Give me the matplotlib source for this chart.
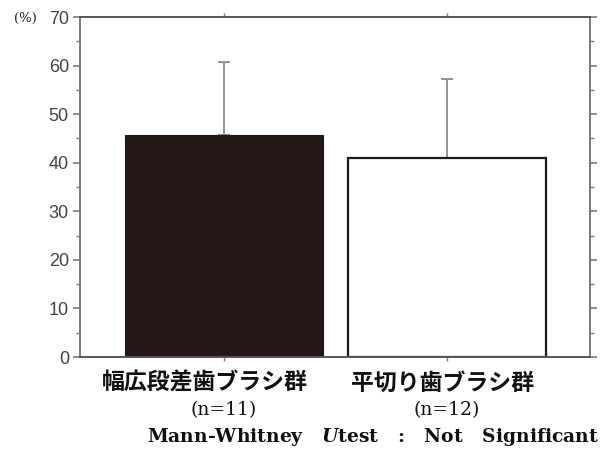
import numpy as np
import matplotlib.pyplot as plt
from matplotlib.ticker import MultipleLocator

plt.rcParams['mathtext.fontset'] = 'custom'
plt.rcParams['mathtext.it'] = 'DejaVu Serif:italic:bold'
plt.rcParams['mathtext.rm'] = 'DejaVu Serif:bold'

# group means and upper SD
groups = ['幅広段差歯ブラシ群', '平切り歯ブラシ群']
counts = ['(n=11)', '(n=12)']
means = [45.8, 40.9]
sd_upper = [15.0, 16.3]
yticks = [0, 10, 20, 30, 40, 50, 60, 70]

fig = plt.figure(figsize=(6.06, 4.5), dpi=100)
ax = fig.add_axes([80 / 606, 93 / 450, 510 / 606, 340 / 450])

x = np.arange(len(groups))
ax.bar(x, means, width=0.885, color=['#231815', 'white'],
       edgecolor=['#231815', '#231815'], linewidth=[0.8, 1.6], zorder=2)
ax.errorbar(x, means, yerr=[np.zeros(len(means)), sd_upper], fmt='none',
            ecolor='#8a8a8a', elinewidth=1.3, capsize=4, capthick=1.3, zorder=1)

ax.set_xlim(-0.646, 1.641)
ax.set_ylim(0, 70)
ax.set_yticks(yticks)
ax.yaxis.set_minor_locator(MultipleLocator(5))
ax.set_xticks(x)
ax.set_xticklabels([])

for side in ['left', 'right', 'top', 'bottom']:
    ax.spines[side].set_color('#7a7a7a')
    ax.spines[side].set_linewidth(1.4)
ax.spines['top'].set_color('#555555')
ax.spines['bottom'].set_color('#555555')

ax.tick_params(axis='y', which='major', direction='out', length=5, width=1.2,
               color='#7a7a7a', labelcolor='#444444', labelsize=13,
               right=True, pad=3)
ax.tick_params(axis='y', which='minor', direction='out', length=3, width=1.0,
               color='#7a7a7a', right=True)
ax.tick_params(axis='x', which='major', direction='out', length=3, width=1.0,
               color='#7a7a7a', top=True)
for lab in ax.get_yticklabels():
    lab.set_family('Liberation Sans')

fig.text(14 / 606, 1 - 18 / 450, '(%)', family='DejaVu Serif', fontsize=9.5,
         va='center', ha='left', color='#222222')

# group names and sample sizes under the bars
name_shift = [-0.085, -0.022]
for xi, name, n, dx in zip(x, groups, counts, name_shift):
    xf = ax.transData.transform((xi, 0))[0] / 606
    ax.text(xi + dx, -5.3, name,
            family=['Noto Sans CJK JP', 'DejaVu Sans'], fontweight='bold',
            fontsize=16.5, ha='center', va='center', color='#111111')
    fig.text(xf, 1 - 410 / 450, n,
             family='DejaVu Serif', fontsize=13.5, ha='center', va='center',
             color='#111111')

fig.text(599 / 606, 1 - 437 / 450,
         'Mann-Whitney   $U$test   :   Not   Significant',
         family='DejaVu Serif', fontweight='bold', fontsize=13.5,
         ha='right', va='center', color='#111111')

fig.savefig('out.png', dpi=100, facecolor='white')
